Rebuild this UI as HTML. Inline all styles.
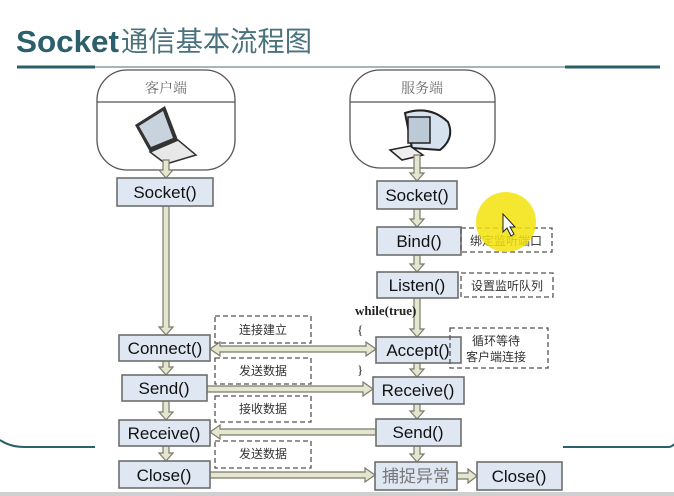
<!DOCTYPE html>
<html><head><meta charset="utf-8"><style>
html,body{margin:0;padding:0;background:#fff;}
svg{display:block;}
.bx{fill:#dfe7f3;stroke:#6e6e6e;stroke-width:1.6;}
.t{font-family:"Comic Sans MS","Liberation Sans",sans-serif;font-size:17px;fill:#111;text-anchor:middle;}
.c{font-family:"Liberation Sans","Noto Sans CJK SC",sans-serif;font-size:12px;fill:#333;text-anchor:middle;}
.d{fill:none;stroke:#555;stroke-width:1.3;stroke-dasharray:5,3;}
.ar{fill:#e4e6cf;stroke:#7a7a6a;stroke-width:1.2;}
</style></head><body>
<svg width="674" height="496" viewBox="0 0 674 496" xmlns="http://www.w3.org/2000/svg">
<rect width="674" height="496" fill="#fff"/>
<text x="16" y="52" font-family="Liberation Sans, sans-serif" font-weight="bold" font-size="31" fill="#2b5f6b" textLength="103" lengthAdjust="spacingAndGlyphs">Socket</text>
<text x="121" y="51" font-family="'Liberation Sans','Noto Sans CJK SC',sans-serif" font-size="28" fill="#4a727c" textLength="191" lengthAdjust="spacingAndGlyphs">通信基本流程图</text>
<line x1="17" y1="67" x2="660" y2="67" stroke="#6f8a90" stroke-width="1.2"/>
<line x1="17" y1="67" x2="95" y2="67" stroke="#2b5f6b" stroke-width="3"/>
<line x1="565" y1="67" x2="660" y2="67" stroke="#2b5f6b" stroke-width="3"/>
<path d="M0 440 Q10 447 25 447 L95 447" fill="none" stroke="#2b5f6b" stroke-width="2"/>
<path d="M563 447 L668 447 Q672 447 674 444" fill="none" stroke="#2b5f6b" stroke-width="2"/>
<rect x="0" y="492" width="674" height="4" fill="#d0d0d0"/>

<!-- headers -->
<rect x="97" y="70" width="138" height="100" rx="30" fill="#fff" stroke="#555" stroke-width="1.3"/>
<line x1="97" y1="102" x2="235" y2="102" stroke="#555" stroke-width="1.2"/>
<text x="166" y="93" font-family="'Liberation Serif','Noto Serif CJK SC',serif" font-size="14" fill="#666" text-anchor="middle">客户端</text>
<rect x="350" y="70" width="145" height="98" rx="30" fill="#fff" stroke="#555" stroke-width="1.3"/>
<line x1="350" y1="102" x2="495" y2="102" stroke="#555" stroke-width="1.2"/>
<text x="422" y="93" font-family="'Liberation Serif','Noto Serif CJK SC',serif" font-size="14" fill="#666" text-anchor="middle">服务端</text>
<!-- laptop -->
<polygon points="135,125 165,106 178,140 150,152" fill="#333"/>
<polygon points="139,126 163,111 173,138 151,147" fill="#c9d3dd"/>
<polygon points="150,152 178,140 196,155 166,164" fill="#e8e8e8" stroke="#333" stroke-width="1.5"/>
<!-- monitor -->
<path d="M405 113 Q430 105 448 122 Q455 138 440 150 L412 148 Z" fill="#d6e2ee" stroke="#222" stroke-width="2"/>
<rect x="408" y="117" width="22" height="26" fill="#bcc9d6" stroke="#222" stroke-width="1.5"/>
<polygon points="390,150 410,146 423,155 402,160" fill="#eee" stroke="#222" stroke-width="1.5"/>

<!-- vertical arrows -->
<g class="ar">
<path d="M163 160 L163 170 L159 170 L166 178 L173 170 L169 170 L169 160 Z"/>
<path d="M163 206 L163 327 L159 327 L166 335 L173 327 L169 327 L169 206 Z"/>
<path d="M163 361 L163 367 L159 367 L166 375 L173 367 L169 367 L169 361 Z"/>
<path d="M163 401 L163 412 L159 412 L166 420 L173 412 L169 412 L169 401 Z"/>
<path d="M163 446 L163 453 L159 453 L166 461 L173 453 L169 453 L169 446 Z"/>
<path d="M414 155 L414 173 L410 173 L417 181 L424 173 L420 173 L420 155 Z"/>
<path d="M414 209 L414 219 L410 219 L417 227 L424 219 L420 219 L420 209 Z"/>
<path d="M414 255 L414 264 L410 264 L417 272 L424 264 L420 264 L420 255 Z"/>
<path d="M414 298 L414 329 L410 329 L417 337 L424 329 L420 329 L420 298 Z"/>
<path d="M414 363 L414 369 L410 369 L417 377 L424 369 L420 369 L420 363 Z"/>
<path d="M414 404 L414 411 L410 411 L417 419 L424 411 L420 411 L420 404 Z"/>
<path d="M414 446 L414 454 L410 454 L417 462 L424 454 L420 454 L420 446 Z"/>
<path d="M220 346 L366 346 L366 342 L376 349 L366 356 L366 352 L220 352 L220 356 L210 349 L220 342 Z"/>
<path d="M207 386 L363 386 L363 382 L373 389 L363 396 L363 392 L207 392 Z"/>
<path d="M376 429 L220 429 L220 425 L210 432 L220 439 L220 435 L376 435 Z"/>
<path d="M210 472 L365 472 L365 468 L375 475 L365 482 L365 478 L210 478 Z"/>
<path d="M457 473 L468 473 L468 469 L477 476 L468 483 L468 479 L457 479 Z"/>
</g>

<!-- boxes -->
<rect class="bx" x="117" y="178" width="96" height="28"/><text class="t" x="165" y="198">Socket()</text>
<rect class="bx" x="377" y="181" width="80" height="28"/><text class="t" x="417" y="201">Socket()</text>
<rect class="bx" x="377" y="227" width="84" height="28"/><text class="t" x="419" y="247">Bind()</text>
<rect class="bx" x="377" y="272" width="81" height="26"/><text class="t" x="417" y="291">Listen()</text>
<rect class="bx" x="119" y="335" width="91" height="26"/><text class="t" x="165" y="354">Connect()</text>
<rect class="bx" x="376" y="337" width="85" height="26"/><text class="t" x="418" y="356">Accept()</text>
<rect class="bx" x="122" y="375" width="85" height="26"/><text class="t" x="164" y="394">Send()</text>
<rect class="bx" x="373" y="377" width="91" height="27"/><text class="t" x="418" y="396">Receive()</text>
<rect class="bx" x="119" y="420" width="91" height="26"/><text class="t" x="164" y="439">Receive()</text>
<rect class="bx" x="376" y="419" width="85" height="27"/><text class="t" x="418" y="438">Send()</text>
<rect class="bx" x="119" y="461" width="91" height="27"/><text class="t" x="164" y="481">Close()</text>
<rect class="bx" x="375" y="462" width="82" height="28"/><text x="416" y="482" font-family="'Liberation Sans','Noto Sans CJK SC',sans-serif" font-size="17" fill="#777" text-anchor="middle">捕捉异常</text>
<rect class="bx" x="477" y="462" width="85" height="28"/><text class="t" x="519" y="482">Close()</text>

<!-- dashed labels -->
<rect class="d" x="461" y="228" width="91" height="24"/><text class="c" x="506" y="245">绑定监听端口</text>
<rect class="d" x="461" y="273" width="92" height="24"/><text class="c" x="507" y="290">设置监听队列</text>
<rect class="d" x="450" y="328" width="98" height="40"/><text class="c" x="496" y="345">循环等待</text><text class="c" x="496" y="361">客户端连接</text>
<rect class="d" x="215" y="316" width="96" height="27"/><text class="c" x="263" y="334">连接建立</text>
<rect class="d" x="215" y="358" width="96" height="26"/><text class="c" x="263" y="375">发送数据</text>
<rect class="d" x="215" y="396" width="96" height="26"/><text class="c" x="263" y="413">接收数据</text>
<rect class="d" x="215" y="441" width="96" height="27"/><text class="c" x="263" y="458">发送数据</text>

<text x="355" y="315" font-family="'Liberation Serif',serif" font-weight="bold" font-size="13" fill="#222">while(true)</text>
<text x="357" y="334" font-family="'Liberation Serif',serif" font-size="13" fill="#222">{</text>
<text x="357" y="374" font-family="'Liberation Serif',serif" font-size="13" fill="#222">}</text>

<circle cx="506" cy="222" r="30" fill="#f3e30b" opacity="0.85"/>
<path d="M503 214 L503 232 L507 228 L511 236 L514 234 L510 227 L515 227 Z" fill="#fff" stroke="#222" stroke-width="1"/>
</svg>
</body></html>
